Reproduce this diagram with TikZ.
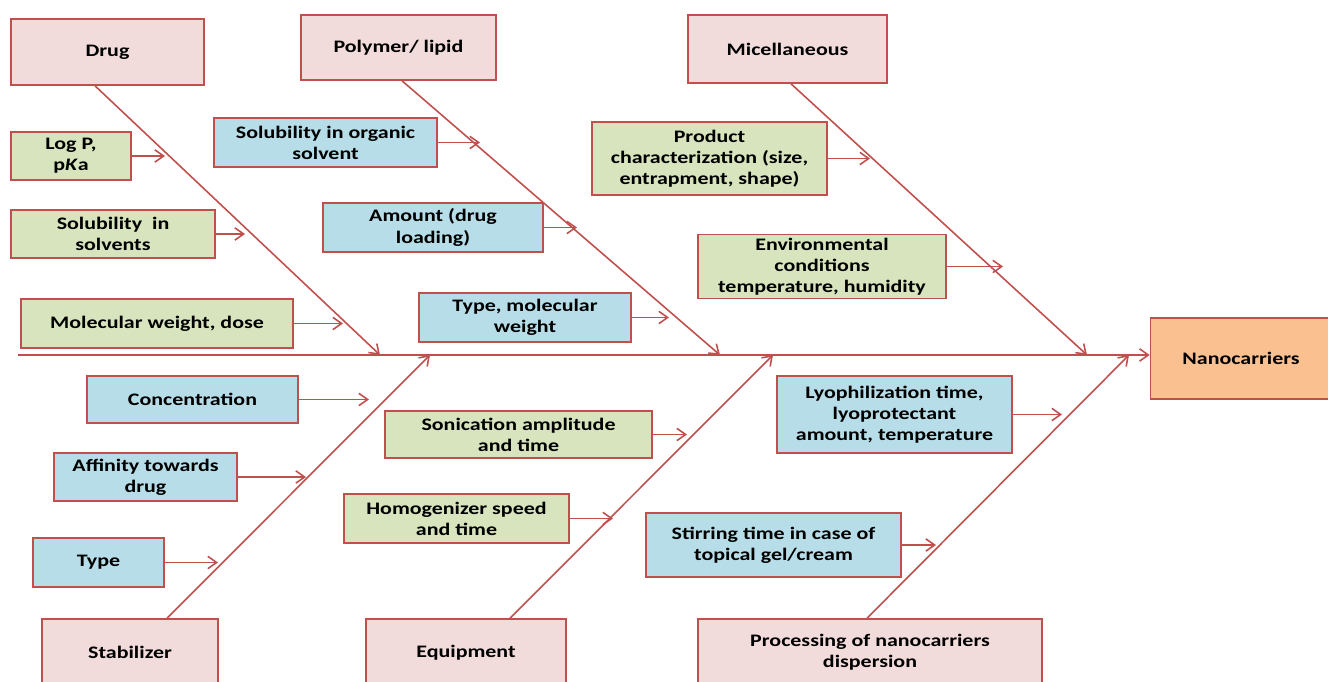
\documentclass[tikz,border=0pt]{standalone}
\usepackage{fontspec}
\usepackage{tikz}
\usetikzlibrary{arrows.meta,calc}
\newfontfamily\diagfont{Carlito}[FakeStretch=1.25]
\definecolor{bonered}{HTML}{C0504D}
\definecolor{pfill}{HTML}{F2DCDB}
\definecolor{gfill}{HTML}{D7E4BD}
\definecolor{bfill}{HTML}{B7DEE8}
\definecolor{ofill}{HTML}{FAC090}
\tikzset{
	box/.style={draw=bonered,line width=0.9pt,align=center,inner sep=2pt,font=\diagfont\bfseries\fontsize{10}{12}\selectfont},
	pbox/.style 2 args={box,fill=pfill,minimum width=#1*0.02cm,minimum height=#2*0.02cm},
	gbox/.style 2 args={box,fill=gfill,minimum width=#1*0.02cm,minimum height=#2*0.02cm},
	bbox/.style 2 args={box,fill=bfill,minimum width=#1*0.02cm,minimum height=#2*0.02cm},
	obox/.style 2 args={box,fill=ofill,minimum width=#1*0.02cm,minimum height=#2*0.02cm},
	arr/.style={draw=bonered,line width=0.9pt,-{Straight Barb[length=5pt,width=7pt]}}
}

\begin{document}
\begin{tikzpicture}[x=0.02cm,y=-0.02cm]
	\useasboundingbox[fill=white] (0,0) rectangle (1328,682);

	\node [obox={181}{81}] (nano) at (1241,358.5) {Nanocarriers};
	\coordinate (tail) at (18,355);
	\draw [arr] (tail) -- (tail -| nano.west);

	\node [pbox={193}{66}] (drug) at (107.5,52) {Drug};
	\node [pbox={195}{65}] (poly) at (398.5,47.5) {Polymer/ lipid};
	\node [pbox={199}{68}] (misc) at (787.5,49) {Micellaneous};
	\node [pbox={176}{67}] (stab) at (130,652.5) {Stabilizer};
	\node [pbox={200}{67}] (equip) at (466,652.5) {Equipment};
	\node [pbox={344}{67}] (proc) at (870,652.5) {Processing of nanocarriers\\dispersion};

	\coordinate (sdrug) at (380,355);
	\coordinate (spoly) at (720,355);
	\coordinate (smisc) at (1087,355);
	\coordinate (sstab) at (430,355);
	\coordinate (sequip) at (773,355);
	\coordinate (sproc) at (1129,355);
	\draw [arr] ($(drug.south)+(-12.5,0)$) -- (sdrug);
	\draw [arr] ($(poly.south)+(3.5,0)$) -- (spoly);
	\draw [arr] ($(misc.south)+(3.5,0)$) -- (smisc);
	\draw [arr] ($(stab.north)+(37,0)$) -- (sstab);
	\draw [arr] ($(equip.north)+(44,0)$) -- (sequip);
	\draw [arr] ($(proc.north)+(-3,0)$) -- (sproc);

	\node [gbox={120}{48}] (logp) at (71,156) {Log P,\\p\textit{K}a};
	\node [gbox={204}{48}] (solv) at (113,234) {Solubility\ \ in\\solvents};
	\node [gbox={272}{49}] (molw) at (157,323.5) {Molecular weight, dose};
	\coordinate (tlogp) at (165,156);
	\coordinate (tsolv) at (245,234);
	\coordinate (tmolw) at (343,323.5);
	\draw [arr] (logp.east) -- (tlogp);
	\draw [arr] (solv.east) -- (tsolv);
	\draw [arr] (molw.east) -- (tmolw);

	\node [bbox={223}{49}] (solorg) at (325.5,142.5) {Solubility in organic\\solvent};
	\node [bbox={220}{49}] (amount) at (433,227.5) {Amount (drug\\loading)};
	\node [bbox={212}{49}] (typemw) at (525,317.5) {Type, molecular\\weight};
	\coordinate (tsolorg) at (480,142.5);
	\coordinate (tamount) at (577,227.5);
	\coordinate (ttypemw) at (669,317.5);
	\draw [arr] (solorg.east) -- (tsolorg);
	\draw [arr] (amount.east) -- (tamount);
	\draw [arr] (typemw.east) -- (ttypemw);

	\node [gbox={235}{73}] (prod) at (709.5,158.5) {Product\\characterization (size,\\entrapment, shape)};
	\node [gbox={248}{63}] (env) at (822,266.5) {Environmental\\conditions\\temperature, humidity};
	\coordinate (tprod) at (870,158.5);
	\coordinate (tenv) at (1003,266.5);
	\draw [arr] (prod.east) -- (tprod);
	\draw [arr] (env.east) -- (tenv);

	\node [bbox={211}{47}] (conc) at (192.5,399.5) {Concentration};
	\node [bbox={183}{48}] (affin) at (145.5,477) {Affinity towards\\drug};
	\node [bbox={131}{49}] (stype) at (98.5,562.5) {Type};
	\coordinate (tconc) at (369,399.5);
	\coordinate (taffin) at (306,477);
	\coordinate (tstype) at (218,562.5);
	\draw [arr] (conc.east) -- (tconc);
	\draw [arr] (affin.east) -- (taffin);
	\draw [arr] (stype.east) -- (tstype);

	\node [gbox={267}{47}] (sonic) at (518.5,434.5) {Sonication amplitude\\and time};
	\node [gbox={225}{49}] (homog) at (456.5,518.5) {Homogenizer speed\\and time};
	\coordinate (tsonic) at (687,434.5);
	\coordinate (thomog) at (613,518.5);
	\draw [arr] (sonic.east) -- (tsonic);
	\draw [arr] (homog.east) -- (thomog);

	\node [bbox={235}{77}] (lyo) at (894.5,414.5) {Lyophilization time,\\lyoprotectant\\amount, temperature};
	\node [bbox={255}{64}] (stir) at (773.5,545) {Stirring time in case of\\topical gel/cream};
	\coordinate (tlyo) at (1062,414.5);
	\coordinate (tstir) at (936,545);
	\draw [arr] (lyo.east) -- (tlyo);
	\draw [arr] (stir.east) -- (tstir);
\end{tikzpicture}
\end{document}
